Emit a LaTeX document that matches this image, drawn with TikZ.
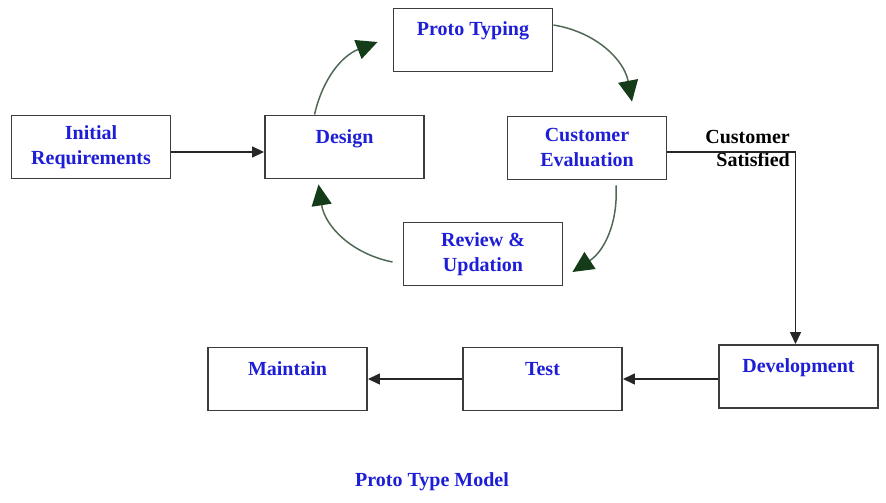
\documentclass[tikz,border=0pt]{standalone}
\usepackage{fontspec}
\setmainfont{Liberation Serif}
\usepackage{tikz}
\usetikzlibrary{arrows.meta}
\definecolor{textblue}{RGB}{30,30,215}
\definecolor{headgreen}{RGB}{20,60,25}
\definecolor{curvegreen}{RGB}{80,105,85}
\definecolor{boxgray}{RGB}{60,60,60}

\begin{document}
\begin{tikzpicture}[x=1pt,y=-1pt,
  box/.style={draw=boxgray,line width=1.9pt,minimum width=159pt,minimum height=63pt,
    align=center,text=textblue,font=\fontsize{20}{25}\selectfont\bfseries},
  onebox/.style={box,text height=14pt,text depth=22pt},
  loop/.style={curvegreen,line width=1.5pt,-{Triangle[length=21pt,width=20pt,color=headgreen]}},
  flow/.style={black!85,line width=1.4pt,-{Triangle[length=12pt,width=11pt]}}]
\useasboundingbox (0,0) rectangle (886,503);
% Nodes
\node[box] (init) at (91,147) {Initial\\Requirements};
\node[onebox] (design) at (344.5,147) {Design};
\node[onebox] (proto) at (473,40) {Proto Typing};
\node[box] (custeval) at (587,148) {Customer\\Evaluation};
\node[box] (review) at (483,254) {Review \&\\Updation};
\node[onebox] (dev) at (798.5,376.5) {Development};
\node[onebox] (test) at (542.5,379) {Test};
\node[onebox] (maintain) at (287.5,379) {Maintain};
\node[text=textblue,font=\fontsize{20}{25}\selectfont\bfseries] (title) at (432,482) {Proto Type Model};
\node[anchor=east,align=right,inner sep=0pt,font=\fontsize{20}{23}\selectfont\bfseries] (satisfied) at (790,148.5) {Customer\\Satisfied};

% Prototype loop
\draw[loop] ([xshift=-30pt]design.north) to[bend left=28] ([xshift=-15pt,yshift=-2pt]proto.west);
\draw[loop] ([yshift=15pt]proto.east) to[bend left=35] ([xshift=45pt,yshift=14pt]custeval.north);
\draw[loop] ([xshift=29pt,yshift=-5pt]custeval.south) to[bend left=30] ([xshift=9pt,yshift=-18pt]review.east);
\draw[loop] ([xshift=-10pt,yshift=-8pt]review.west) to[bend left=35] ([xshift=-26pt,yshift=-5pt]design.south);

% Main flow
\draw[flow] ([yshift=-5pt]init.east) -- ([yshift=-5pt]design.west);
\draw[flow] ([yshift=-4pt]custeval.east) -| ([xshift=-3pt]dev.north);
\draw[flow] (dev.west |- test.east) -- (test.east);
\draw[flow] (test.west) -- (maintain.east);
\end{tikzpicture}
\end{document}
